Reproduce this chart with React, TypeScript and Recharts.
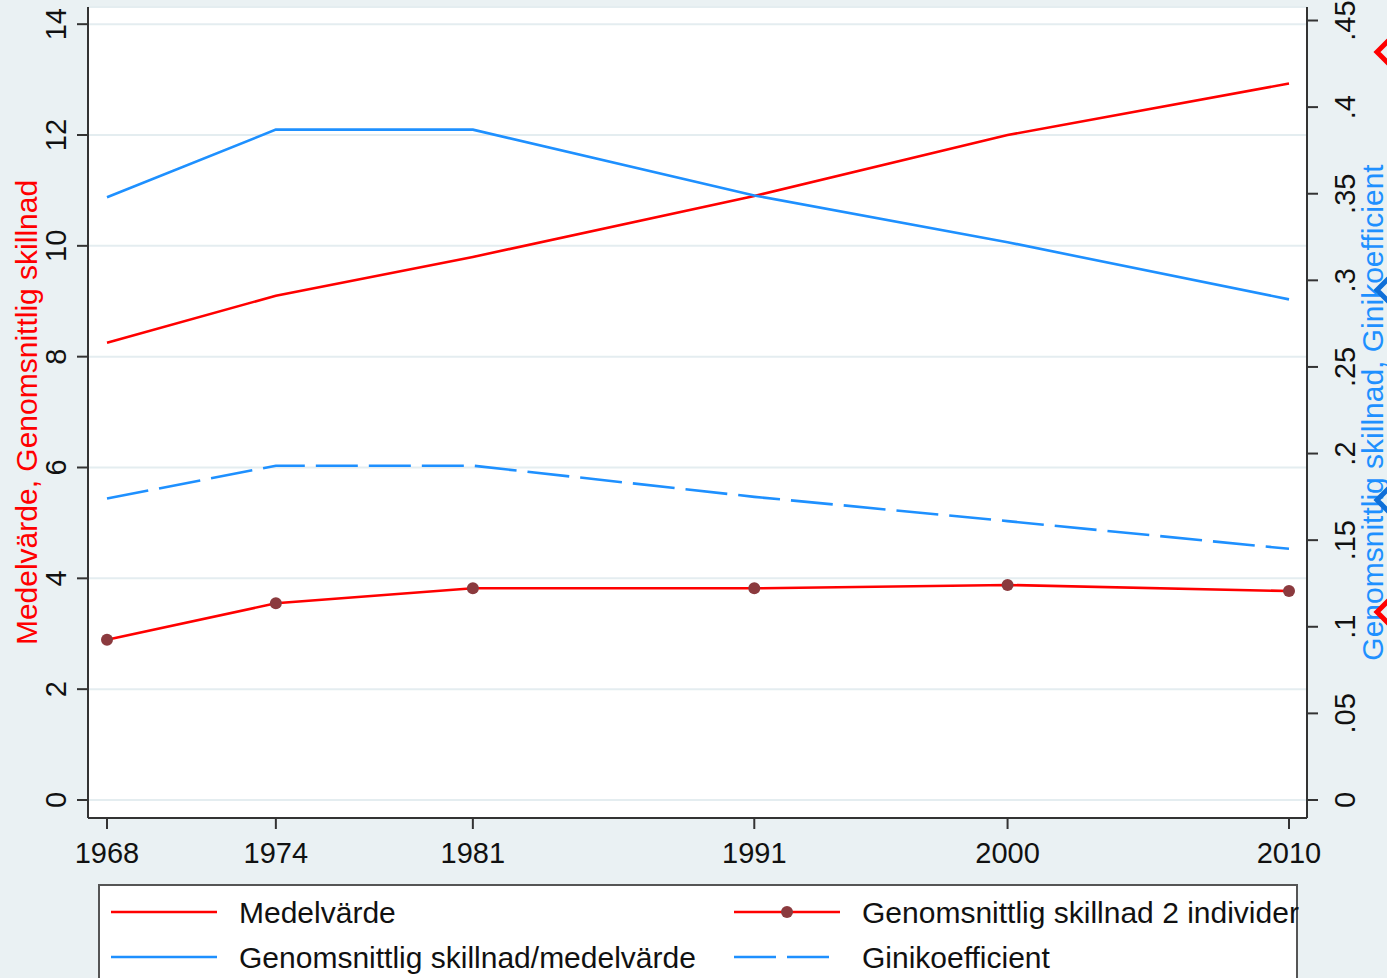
import { ComposedChart, Line, XAxis, YAxis, CartesianGrid, Legend } from "recharts";

const YEARS = [1968, 1974, 1981, 1991, 2000, 2010];
const MEDELVARDE = [8.25, 9.1, 9.8, 10.9, 12.0, 12.93];
const SKILLNAD_2 = [2.89, 3.55, 3.82, 3.82, 3.88, 3.77];
const SKILLNAD_REL = [0.348, 0.387, 0.387, 0.349, 0.322, 0.289];
const GINI = [0.174, 0.193, 0.193, 0.175, 0.161, 0.145];

const LEFT_TICKS = [0, 2, 4, 6, 8, 10, 12, 14];
const RIGHT_TICKS = [0, 0.05, 0.1, 0.15, 0.2, 0.25, 0.3, 0.35, 0.4, 0.45];
const RIGHT_LABELS = ["0", ".05", ".1", ".15", ".2", ".25", ".3", ".35", ".4", ".45"];

const LEFT_TITLE = "Medelvärde, Genomsnittlig skillnad";
const RIGHT_TITLE = "Genomsnittlig skillnad, Ginikoefficient";

const data = YEARS.map((year, i) => ({
  year,
  medel: MEDELVARDE[i],
  skillnad2: SKILLNAD_2[i],
  rel: SKILLNAD_REL[i],
  gini: GINI[i],
}));

const FONT = '"Liberation Sans", Arial, sans-serif';
const RED = "#ff0000";
const BLUE = "#1e90ff";
const MAROON = "#8b3a3e";
const AXIS = "#333";
const BG = "#eaf1f3";

const LeftTick = ({ x, y, payload }: any) => {
  const bx = x - 9;
  return (
    <text x={bx} y={y} transform={`rotate(-90 ${bx} ${y})`} textAnchor="middle" fontSize={29} fill="#111" fontFamily={FONT}>
      {payload.value}
    </text>
  );
};

const RightTick = ({ x, y, payload }: any) => {
  const bx = x + 35;
  const idx = RIGHT_TICKS.findIndex((t) => Math.abs(t - payload.value) < 1e-9);
  return (
    <text x={bx} y={y} transform={`rotate(-90 ${bx} ${y})`} textAnchor="middle" fontSize={29} fill="#111" fontFamily={FONT}>
      {idx >= 0 ? RIGHT_LABELS[idx] : payload.value}
    </text>
  );
};

const BottomTick = ({ x, y, payload }: any) => (
  <text x={x} y={y + 32} textAnchor="middle" fontSize={29} fill="#111" fontFamily={FONT}>
    {payload.value}
  </text>
);

const LeftTitle = ({ viewBox }: any) => {
  const x = viewBox.x + 37;
  const y = viewBox.y + viewBox.height / 2;
  return (
    <text x={x} y={y} transform={`rotate(-90 ${x} ${y})`} textAnchor="middle" fontSize={30} fill={RED} fontFamily={FONT}>
      {LEFT_TITLE}
    </text>
  );
};

const RightTitle = ({ viewBox }: any) => {
  const x = viewBox.x + 76;
  const y = viewBox.y + viewBox.height / 2;
  return (
    <text x={x} y={y} transform={`rotate(-90 ${x} ${y})`} textAnchor="middle" fontSize={30} fill={BLUE} fontFamily={FONT}>
      {RIGHT_TITLE}
    </text>
  );
};

// legend entries in Stata order (two columns)
const LEGEND = [
  { name: "Medelvärde", color: RED, dash: undefined, dot: false },
  { name: "Genomsnittlig skillnad 2 individer", color: RED, dash: undefined, dot: true },
  { name: "Genomsnittlig skillnad/medelvärde", color: BLUE, dash: undefined, dot: false },
  { name: "Ginikoefficient", color: BLUE, dash: "42 11", dot: false },
];

const LegendBox = () => (
  <svg width={1200} height={100} style={{ display: "block", overflow: "visible" }}>
    <rect x={1} y={1} width={1198} height={200} fill="#fff" stroke="#555" strokeWidth={2} />
    {LEGEND.map((item, i) => {
      const col = i % 2;
      const row = Math.floor(i / 2);
      const x0 = col === 0 ? 13 : 636;
      const cy = 28 + row * 45;
      return (
        <g key={item.name}>
          <line x1={x0} x2={x0 + 106} y1={cy} y2={cy} stroke={item.color} strokeWidth={2.6} strokeDasharray={item.dash} />
          {item.dot && <circle cx={x0 + 53} cy={cy} r={6} fill={MAROON} />}
          <text x={x0 + 128} y={cy + 11} fontSize={30} fill="#111" fontFamily={FONT}>
            {item.name}
          </text>
        </g>
      );
    })}
  </svg>
);

export default function App() {
  return (
    <div style={{ position: "fixed", left: 0, top: 0, width: 1387, height: 978, background: BG, overflow: "hidden" }}>
      <ComposedChart width={1387} height={978} data={data} margin={{ top: 7, right: 0, bottom: 0, left: 0 }}>
        <CartesianGrid yAxisId="left" vertical={false} fill="#fff" fillOpacity={1} stroke="#e4edf0" strokeWidth={2} />
        <XAxis
          dataKey="year"
          type="number"
          domain={[1968, 2010]}
          ticks={YEARS}
          interval={0}
          padding={{ left: 19, right: 18 }}
          height={160}
          tickSize={11}
          tickMargin={2}
          axisLine={{ stroke: AXIS, strokeWidth: 2 }}
          tickLine={{ stroke: AXIS, strokeWidth: 2 }}
          tick={<BottomTick />}
        />
        <YAxis
          yAxisId="left"
          domain={[-0.325, 14.31]}
          allowDataOverflow
          ticks={LEFT_TICKS}
          interval={0}
          width={88}
          tickSize={11}
          tickMargin={2}
          axisLine={{ stroke: AXIS, strokeWidth: 2 }}
          tickLine={{ stroke: AXIS, strokeWidth: 2 }}
          tick={<LeftTick />}
          label={<LeftTitle />}
        />
        <YAxis
          yAxisId="right"
          orientation="right"
          domain={[-0.0104, 0.4578]}
          allowDataOverflow
          ticks={RIGHT_TICKS}
          interval={0}
          width={80}
          tickSize={11}
          tickMargin={2}
          axisLine={{ stroke: AXIS, strokeWidth: 2 }}
          tickLine={{ stroke: AXIS, strokeWidth: 2 }}
          tick={<RightTick />}
          label={<RightTitle />}
        />
        <Line yAxisId="left" dataKey="medel" stroke={RED} strokeWidth={2.6} dot={false} isAnimationActive={false} />
        <Line
          yAxisId="left"
          dataKey="skillnad2"
          stroke={RED}
          strokeWidth={2.6}
          dot={{ r: 6, fill: MAROON, stroke: MAROON, strokeWidth: 0 }}
          isAnimationActive={false}
        />
        <Line yAxisId="right" dataKey="rel" stroke={BLUE} strokeWidth={2.6} dot={false} isAnimationActive={false} />
        <Line
          yAxisId="right"
          dataKey="gini"
          stroke={BLUE}
          strokeWidth={2.6}
          strokeDasharray="42 11"
          dot={false}
          isAnimationActive={false}
        />
        <Legend
          layout="horizontal"
          verticalAlign="middle"
          align="center"
          wrapperStyle={{ position: "absolute", left: 98, top: 884, width: 1200, height: 100 }}
          content={() => <LegendBox />}
        />
      </ComposedChart>
      {/* handle markers clipped at the right edge */}
      <svg width={1387} height={978} style={{ position: "absolute", left: 0, top: 0, pointerEvents: "none" }}>
        {[
          { y: 52, c: "#ff0000" },
          { y: 290, c: "#0f6fd8" },
          { y: 500, c: "#0f6fd8" },
          { y: 612, c: "#ff0000" },
        ].map((m) => (
          <polygon
            key={m.y}
            points={`1377,${m.y} 1399,${m.y - 22} 1421,${m.y} 1399,${m.y + 22}`}
            fill="none"
            stroke={m.c}
            strokeWidth={5}
          />
        ))}
      </svg>
    </div>
  );
}
